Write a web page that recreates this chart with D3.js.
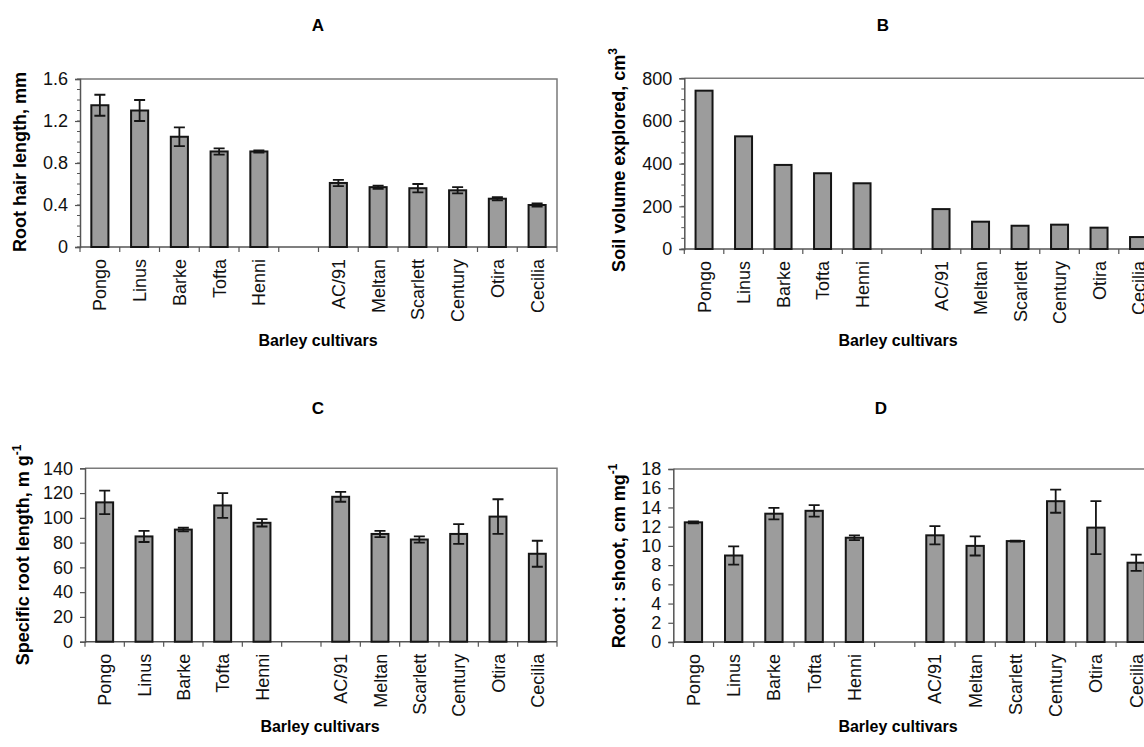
<!DOCTYPE html>
<html>
<head>
<meta charset="utf-8">
<script src="https://cdn.jsdelivr.net/npm/d3@7"></script>
<style>
  body { margin: 0; background: #fff; }
  svg { display: block; font-family: "Liberation Sans", Arial, sans-serif; }
</style>
</head>
<body>
<svg id="chart" width="1144" height="747"></svg>
<script>
// ---- data ----
const categories = ["Pongo","Linus","Barke","Tofta","Henni","","AC/91","Meltan","Scarlett","Century","Otira","Cecilia"];

const rootHairLength = [1.35, 1.30, 1.05, 0.91, 0.91, null, 0.61, 0.57, 0.56, 0.54, 0.46, 0.40];
const rootHairErr    = [0.10, 0.10, 0.09, 0.03, 0.01, null, 0.03, 0.015, 0.04, 0.03, 0.015, 0.015];

const soilVolume     = [742, 528, 394, 355, 308, null, 187, 128, 109, 114, 100, 56];

const specificRootLength = [112.5, 85, 90.5, 110, 96, null, 117, 87, 82.5, 87, 101, 71];
const specificRootErr    = [9.5, 4.5, 1.5, 10, 3, null, 4, 2.5, 2.5, 8, 14, 10.5];

const rootShoot    = [12.45, 9.0, 13.35, 13.65, 10.85, null, 11.1, 10.0, 10.5, 14.65, 11.9, 8.25];
const rootShootErr = [0.1, 0.95, 0.6, 0.6, 0.25, null, 0.95, 1.0, 0.05, 1.2, 2.75, 0.85];

const ticksA = [0, 0.4, 0.8, 1.2, 1.6];
const ticksB = [0, 200, 400, 600, 800];
const ticksC = [0, 20, 40, 60, 80, 100, 120, 140];
const ticksD = [0, 2, 4, 6, 8, 10, 12, 14, 16, 18];

const panelTitles = ["A", "B", "C", "D"];
const xTitle = "Barley cultivars";

// ---- drawing ----
const svg = d3.select("#chart");

function panel(cfg) {
  const g = svg.append("g");
  const x = d3.scaleBand().domain(d3.range(categories.length))
    .range([cfg.left, cfg.left + cfg.width]).paddingInner(0).paddingOuter(0);
  const y = d3.scaleLinear().domain([0, cfg.max]).range([cfg.bottom, cfg.top]);

  // frame (top + right)
  g.append("path")
    .attr("d", `M${cfg.left},${cfg.top}H${cfg.left + cfg.width}V${cfg.bottom}`)
    .attr("fill", "none").attr("stroke", "#7a7a7a").attr("stroke-width", 1.5);

  // minor ticks
  if (cfg.minor) {
    const minorVals = d3.range(0, cfg.max + 1e-9, cfg.minor);
    g.selectAll(".minor").data(minorVals).join("line")
      .attr("x1", cfg.left - 3).attr("x2", cfg.left)
      .attr("y1", d => y(d)).attr("y2", d => y(d))
      .attr("stroke", "#555").attr("stroke-width", 1);
  }

  // y axis
  const yAxis = g.append("g").attr("transform", `translate(${cfg.left},0)`)
    .call(d3.axisLeft(y).tickValues(cfg.ticks).tickSize(5).tickPadding(7)
      .tickFormat(cfg.fmt));
  yAxis.select(".domain").attr("stroke", "#555").attr("stroke-width", 1.5);
  yAxis.selectAll(".tick line").attr("stroke", "#555").attr("stroke-width", 1.2);
  yAxis.selectAll(".tick text").attr("font-size", 18).attr("fill", "#111")
    .attr("font-family", "Liberation Sans, Arial, sans-serif");

  // x axis with ticks at band boundaries
  const bounds = d3.range(categories.length + 1).map(i => cfg.left + i * x.bandwidth());
  g.append("line").attr("x1", cfg.left).attr("x2", cfg.left + cfg.width)
    .attr("y1", cfg.bottom).attr("y2", cfg.bottom)
    .attr("stroke", "#555").attr("stroke-width", 1.5);
  g.selectAll(".xt").data(bounds).join("line")
    .attr("x1", d => d).attr("x2", d => d)
    .attr("y1", cfg.bottom).attr("y2", cfg.bottom + 5)
    .attr("stroke", "#555").attr("stroke-width", 1.2);

  // category labels
  g.selectAll(".xl").data(categories).join("text")
    .attr("transform", (d, i) => `translate(${x(i) + x.bandwidth() / 2 + 6.5},${cfg.bottom + 12}) rotate(-90)`)
    .attr("text-anchor", "end").attr("font-size", 18).attr("fill", "#111")
    .text(d => d);

  // bars
  const bw = x.bandwidth() * 0.43;
  const idx = d3.range(categories.length).filter(i => cfg.values[i] != null);
  g.selectAll(".bar").data(idx).join("rect")
    .attr("x", i => x(i) + (x.bandwidth() - bw) / 2)
    .attr("y", i => y(cfg.values[i]))
    .attr("width", bw)
    .attr("height", i => cfg.bottom - y(cfg.values[i]))
    .attr("fill", "#9c9c9c").attr("stroke", "#151515").attr("stroke-width", 2);

  // error bars
  if (cfg.err) {
    const cap = 5.5;
    idx.forEach(i => {
      const cx = x(i) + x.bandwidth() / 2;
      const v = cfg.values[i], e = cfg.err[i];
      const p = `M${cx - cap},${y(v + e)}H${cx + cap}M${cx},${y(v + e)}V${y(v - e)}M${cx - cap},${y(v - e)}H${cx + cap}`;
      g.append("path").attr("d", p).attr("fill", "none")
        .attr("stroke", "#151515").attr("stroke-width", 1.8);
    });
  }

  // panel title
  g.append("text").attr("x", cfg.titleX).attr("y", cfg.titleY)
    .attr("text-anchor", "middle").attr("font-weight", "bold").attr("font-size", 17)
    .text(cfg.title);

  // x title
  g.append("text").attr("x", cfg.xTitleX).attr("y", cfg.xTitleY)
    .attr("text-anchor", "middle").attr("font-weight", "bold").attr("font-size", 16)
    .text(xTitle);

  // y title
  const yt = g.append("text")
    .attr("transform", `translate(${cfg.yTitleX},${cfg.yTitleY}) rotate(-90)`)
    .attr("text-anchor", "middle").attr("font-weight", "bold").attr("font-size", 18);
  yt.append("tspan").text(cfg.yTitle);
  if (cfg.yTitleSup) {
    yt.append("tspan").attr("dy", -8).attr("font-size", 12).text(cfg.yTitleSup);
  }
}

panel({
  left: 80, width: 477, top: 79, bottom: 247, max: 1.6, ticks: ticksA, minor: 0.1,
  fmt: d => d === 0 ? "0" : d3.format(".1f")(d),
  values: rootHairLength, err: rootHairErr,
  title: panelTitles[0], titleX: 318, titleY: 31,
  xTitleX: 318, xTitleY: 346,
  yTitle: "Root hair length, mm", yTitleX: 26, yTitleY: 162
});

panel({
  left: 684.3, width: 474, top: 78.3, bottom: 249, max: 800, ticks: ticksB, minor: 50,
  fmt: d3.format("d"),
  values: soilVolume, err: null,
  title: panelTitles[1], titleX: 883, titleY: 31,
  xTitleX: 898, xTitleY: 346,
  yTitle: "Soil volume explored, cm", yTitleSup: "3", yTitleX: 625, yTitleY: 160
});

panel({
  left: 85, width: 472, top: 468.3, bottom: 641.7, max: 140, ticks: ticksC, minor: null,
  fmt: d3.format("d"),
  values: specificRootLength, err: specificRootErr,
  title: panelTitles[2], titleX: 318, titleY: 414,
  xTitleX: 320, xTitleY: 732,
  yTitle: "Specific root length, m g", yTitleSup: "-1", yTitleX: 29, yTitleY: 555
});

panel({
  left: 673.3, width: 483, top: 469, bottom: 642, max: 18, ticks: ticksD, minor: null,
  fmt: d3.format("d"),
  values: rootShoot, err: rootShootErr,
  title: panelTitles[3], titleX: 881, titleY: 414,
  xTitleX: 898, xTitleY: 732,
  yTitle: "Root : shoot, cm mg", yTitleSup: "-1", yTitleX: 625, yTitleY: 556
});
</script>
</body>
</html>
